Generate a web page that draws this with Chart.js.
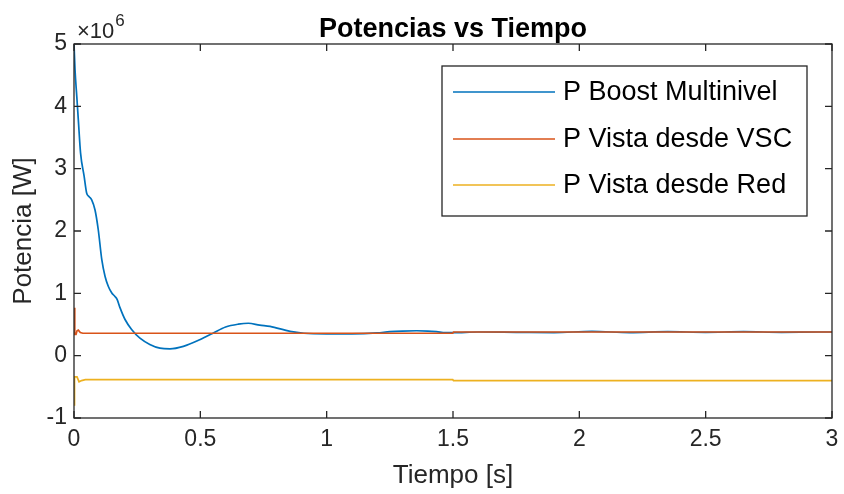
<!DOCTYPE html>
<html>
<head>
<meta charset="utf-8">
<script src="https://cdn.jsdelivr.net/npm/chart.js@4/dist/chart.umd.min.js"></script>
<style>
html,body{margin:0;padding:0;background:#fff;}
#wrap{width:844px;height:494px;position:relative;}
</style>
</head>
<body>
<div id="wrap"><canvas id="c" width="844" height="494"></canvas></div>
<script>
// ---- data (time in s, power in W) ----
const seriesNames = ['P Boost Multinivel', 'P Vista desde VSC', 'P Vista desde Red'];
const tBoost = [0, 0.004, 0.011, 0.017, 0.026, 0.04, 0.05, 0.06, 0.07, 0.083, 0.096, 0.11, 0.123, 0.136, 0.149, 0.162, 0.171, 0.182, 0.202, 0.228, 0.261, 0.30, 0.34, 0.38, 0.433, 0.50, 0.55, 0.60, 0.65, 0.69, 0.735, 0.776, 0.855, 0.91, 1.0, 1.1, 1.2, 1.25, 1.3, 1.356, 1.40, 1.435, 1.47, 1.5, 1.6, 1.75, 1.9, 2.05, 2.2, 2.35, 2.5, 2.65, 2.8, 2.95, 3.0];
const pBoost = [5.01e6, 4.59e6, 4.16e6, 3.79e6, 3.25e6, 2.88e6, 2.61e6, 2.55e6, 2.50e6, 2.34e6, 2.02e6, 1.54e6, 1.27e6, 1.11e6, 1.01e6, 0.95e6, 0.90e6, 0.77e6, 0.58e6, 0.42e6, 0.28e6, 0.18e6, 0.12e6, 0.11e6, 0.15e6, 0.26e6, 0.36e6, 0.46e6, 0.505e6, 0.52e6, 0.49e6, 0.47e6, 0.39e6, 0.36e6, 0.35e6, 0.35e6, 0.365e6, 0.385e6, 0.395e6, 0.40e6, 0.395e6, 0.385e6, 0.37e6, 0.37e6, 0.38e6, 0.375e6, 0.37e6, 0.39e6, 0.37e6, 0.385e6, 0.375e6, 0.385e6, 0.375e6, 0.38e6, 0.38e6];
const tVSC = [0, 0.003, 0.008, 0.012, 0.017, 0.025, 0.035, 1.499, 1.502, 3.0];
const pVSC = [0.77e6, 0.34e6, 0.34e6, 0.40e6, 0.41e6, 0.37e6, 0.36e6, 0.36e6, 0.38e6, 0.38e6];
const tRed = [0, 0.002, 0.012, 0.02, 0.03, 0.045, 1.499, 1.502, 3.0];
const pRed = [-0.79e6, -0.34e6, -0.34e6, -0.42e6, -0.40e6, -0.385e6, -0.385e6, -0.40e6, -0.40e6];
const xTicks = [0, 0.5, 1, 1.5, 2, 2.5, 3];
const yTicks = [-1e6, 0, 1e6, 2e6, 3e6, 4e6, 5e6];
const yExponent = 6;

const colors = ['#0072BD', '#D95319', '#EDB120'];
const axisColor = '#262626';
const FONT = '"Liberation Sans", Arial, Helvetica, sans-serif';

function pts(t, v) { return t.map((x, i) => ({x: x, y: v[i]})); }

const decor = {
  id: 'decor',
  afterDatasetsDraw(chart) {
    const ctx = chart.ctx, a = chart.chartArea;
    const xs = chart.scales.x, ys = chart.scales.y;
    ctx.save();
    ctx.strokeStyle = axisColor;
    ctx.lineWidth = 1.3;
    ctx.strokeRect(a.left, a.top, a.right - a.left, a.bottom - a.top);
    const tl = 7;
    ctx.beginPath();
    xTicks.forEach(v => {
      const px = xs.getPixelForValue(v);
      ctx.moveTo(px, a.bottom); ctx.lineTo(px, a.bottom - tl);
      ctx.moveTo(px, a.top); ctx.lineTo(px, a.top + tl);
    });
    yTicks.forEach(v => {
      const py = ys.getPixelForValue(v);
      ctx.moveTo(a.left, py); ctx.lineTo(a.left + tl, py);
      ctx.moveTo(a.right, py); ctx.lineTo(a.right - tl, py);
    });
    ctx.stroke();

    // legend
    const lx = 442, ly = 66, lw = 365, lh = 150;
    ctx.fillStyle = '#fff';
    ctx.fillRect(lx, ly, lw, lh);
    ctx.strokeRect(lx, ly, lw, lh);
    ctx.font = '27px ' + FONT;
    ctx.textBaseline = 'middle';
    ctx.textAlign = 'left';
    const rows = [92, 139, 185];
    seriesNames.forEach((n, i) => {
      ctx.strokeStyle = colors[i];
      ctx.lineWidth = 1.6;
      ctx.beginPath();
      ctx.moveTo(453, rows[i]); ctx.lineTo(555, rows[i]);
      ctx.stroke();
      ctx.fillStyle = '#000';
      ctx.fillText(n, 563, rows[i] + 1);
    });

    // title
    ctx.fillStyle = '#000';
    ctx.font = 'bold 27px ' + FONT;
    ctx.textAlign = 'center';
    ctx.textBaseline = 'alphabetic';
    ctx.fillText('Potencias vs Tiempo', (a.left + a.right) / 2, 37);

    // exponent
    ctx.fillStyle = axisColor;
    ctx.textAlign = 'left';
    ctx.font = '22px ' + FONT;
    ctx.fillText('\u00d710', 77, 38);
    const w = ctx.measureText('\u00d710').width;
    ctx.font = '17px ' + FONT;
    ctx.fillText(String(yExponent), 77 + w + 1, 26);
    ctx.restore();
  }
};

new Chart(document.getElementById('c'), {
  type: 'line',
  data: {
    datasets: [
      {label: seriesNames[0], data: pts(tBoost, pBoost), borderColor: colors[0], borderWidth: 1.7, pointRadius: 0, cubicInterpolationMode: 'monotone', order: 3},
      {label: seriesNames[1], data: pts(tVSC, pVSC), borderColor: colors[1], borderWidth: 1.7, pointRadius: 0, tension: 0, order: 2},
      {label: seriesNames[2], data: pts(tRed, pRed), borderColor: colors[2], borderWidth: 1.7, pointRadius: 0, tension: 0, order: 1}
    ]
  },
  options: {
    responsive: false,
    animation: false,
    events: [],
    layout: {padding: {top: 44, right: 12, left: 0, bottom: 0}},
    plugins: {legend: {display: false}, tooltip: {enabled: false}, title: {display: false}},
    scales: {
      x: {
        type: 'linear', min: 0, max: 3,
        afterFit(s) { s.height = 76; s.paddingRight = 0; },
        afterBuildTicks(s) { s.ticks = xTicks.map(v => ({value: v})); },
        grid: {display: false, drawTicks: false},
        border: {display: false},
        ticks: {padding: 8, color: axisColor, font: {family: FONT, size: 23}, maxRotation: 0, callback: v => String(v)},
        title: {display: true, text: 'Tiempo [s]', color: axisColor, font: {family: FONT, size: 26}, padding: {top: 0, bottom: 3}}
      },
      y: {
        type: 'linear', min: -1e6, max: 5e6,
        afterFit(s) { s.width = 74; },
        afterBuildTicks(s) { s.ticks = yTicks.map(v => ({value: v})); },
        grid: {display: false, drawTicks: false},
        border: {display: false},
        ticks: {padding: 7, color: axisColor, font: {family: FONT, size: 23}, callback: v => String(v / Math.pow(10, yExponent))},
        title: {display: true, text: 'Potencia [W]', color: axisColor, font: {family: FONT, size: 26}, padding: {top: 8, bottom: 0}}
      }
    }
  },
  plugins: [decor]
});
</script>
</body>
</html>
